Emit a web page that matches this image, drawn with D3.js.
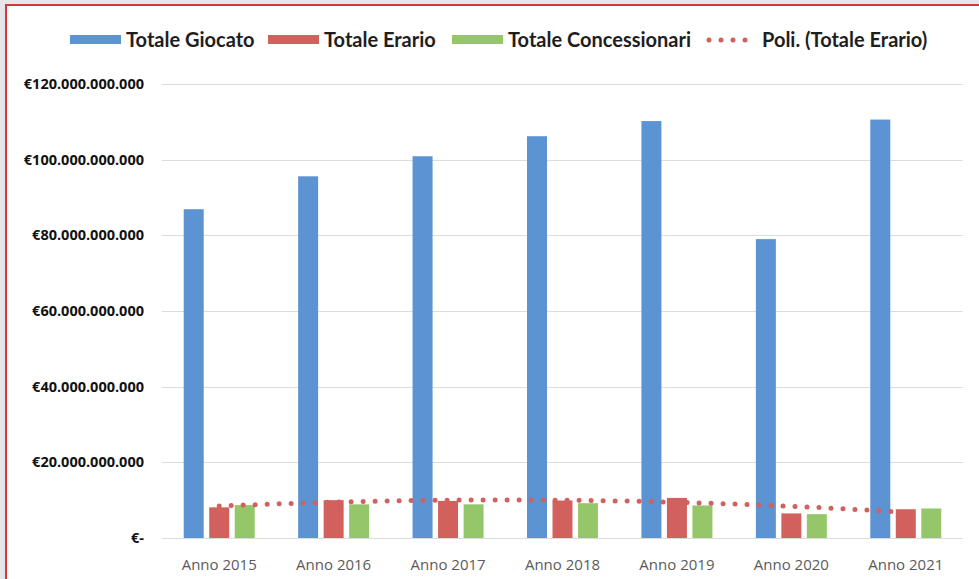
<!DOCTYPE html>
<html>
<head>
<meta charset="utf-8">
<script src="https://cdn.jsdelivr.net/npm/d3@7"></script>
<style>
  html, body { margin: 0; padding: 0; background: #e5e6e8; }
  #chart { width: 979px; height: 579px; }
</style>
</head>
<body>
<div id="chart"></div>
<script>
// categories and series (values in euro)
const years = ["Anno 2015", "Anno 2016", "Anno 2017", "Anno 2018", "Anno 2019", "Anno 2020", "Anno 2021"];
const seriesNames = ["Totale Giocato", "Totale Erario", "Totale Concessionari"];
const giocato = [86.9e9, 95.6e9, 100.9e9, 106.2e9, 110.2e9, 79.0e9, 110.6e9];
const erario = [8.1e9, 10.0e9, 9.8e9, 9.9e9, 10.6e9, 6.5e9, 7.6e9];
const concessionari = [8.7e9, 8.9e9, 8.9e9, 9.2e9, 8.6e9, 6.3e9, 7.8e9];
const yTicks = [0, 20e9, 40e9, 60e9, 80e9, 100e9, 120e9];
const trendLabel = "Poli. (Totale Erario)";

function drawChart() {
  const W = 979, H = 579;
  const colors = ["#5b93d3", "#d2605d", "#95c76a"];

  const svg = d3.select("#chart")
    .append("svg")
      .attr("width", W)
      .attr("height", H);

  // frame: white panel with red border on top and left
  svg.append("rect")
    .attr("x", 5).attr("y", 4)
    .attr("width", W - 5).attr("height", H - 4)
    .attr("fill", "#ffffff");
  svg.append("path")
    .attr("d", `M6,${H} L6,5 L${W},5`)
    .attr("fill", "none")
    .attr("stroke", "#d8343c")
    .attr("stroke-width", 2);

  const x = d3.scaleBand()
    .domain(years)
    .range([162, 963])
    .padding(0);

  const y = d3.scaleLinear()
    .domain([0, 120e9])
    .range([538, 84]);

  const xSub = d3.scaleBand()
    .domain(seriesNames)
    .range([-35.5, 35.5])
    .paddingInner(0.216)
    .paddingOuter(0);

  // gridlines
  svg.append("g")
    .selectAll("line")
    .data(yTicks)
    .join("line")
      .attr("x1", x.range()[0])
      .attr("x2", x.range()[1])
      .attr("y1", d => Math.round(y(d)) + 0.5)
      .attr("y2", d => Math.round(y(d)) + 0.5)
      .attr("stroke", "#dcdcdc")
      .attr("stroke-width", 1);

  // y labels
  const fmt = d => d === 0 ? "€-" : "€" + d3.format(",")(d).replace(/,/g, ".");
  svg.append("g")
    .selectAll("text")
    .data(yTicks)
    .join("text")
      .attr("x", 144)
      .attr("y", d => y(d) + 5)
      .attr("text-anchor", "end")
      .style("font-family", "'Open Sans', sans-serif")
      .style("font-weight", "bold")
      .style("font-size", "14.5px")
      .style("fill", "#111")
      .text(fmt);

  // x labels
  svg.append("g")
    .selectAll("text")
    .data(years)
    .join("text")
      .attr("x", d => x(d) + x.bandwidth() / 2)
      .attr("y", 570)
      .attr("text-anchor", "middle")
      .style("font-family", "'Open Sans', sans-serif")
      .style("font-size", "15px")
      .style("fill", "#5a5a5a")
      .text(d => d);

  // bars
  const table = years.map((yr, i) => ({
    year: yr,
    values: [giocato[i], erario[i], concessionari[i]]
  }));

  svg.append("g")
    .selectAll("g")
    .data(table)
    .join("g")
      .attr("transform", d => `translate(${x(d.year) + x.bandwidth() / 2},0)`)
    .selectAll("rect")
    .data(d => d.values.map((v, k) => ({key: seriesNames[k], value: v, k: k})))
    .join("rect")
      .attr("x", d => xSub(d.key))
      .attr("width", xSub.bandwidth())
      .attr("y", d => y(d.value))
      .attr("height", d => y(0) - y(d.value))
      .attr("fill", d => colors[d.k]);

  // polynomial (order 2) trendline of Totale Erario
  const n = erario.length;
  const ts = d3.range(n).map(i => i - (n - 1) / 2);
  const sT2 = d3.sum(ts, t => t * t), sT4 = d3.sum(ts, t => t ** 4);
  const sY = d3.sum(erario), sTY = d3.sum(ts, (t, i) => t * erario[i]);
  const sT2Y = d3.sum(ts, (t, i) => t * t * erario[i]);
  const b = sTY / sT2;
  const c = (sT2Y - sT2 * sY / n) / (sT4 - sT2 * sT2 / n);
  const a = (sY - c * sT2) / n;
  const poly = t => a + b * t + c * t * t;

  const x0 = x(years[0]) + x.bandwidth() / 2;
  const trendPts = d3.range(0, n - 1 + 0.001, 0.05).map(s => [x0 + s * x.step(), y(poly(s - (n - 1) / 2))]);

  svg.append("path")
    .attr("d", d3.line()(trendPts))
    .attr("fill", "none")
    .attr("stroke", colors[1])
    .attr("stroke-width", 5)
    .attr("stroke-linecap", "round")
    .attr("stroke-dasharray", "0 12");

  // legend
  const legendItems = [
    {name: seriesNames[0], color: colors[0], x: 70, type: "rect"},
    {name: seriesNames[1], color: colors[1], x: 268, type: "rect"},
    {name: seriesNames[2], color: colors[2], x: 452, type: "rect"},
    {name: trendLabel, color: colors[1], x: 706, type: "dots"}
  ];
  const legend = svg.append("g").attr("class", "legend");
  legend.selectAll("rect")
    .data(legendItems.filter(d => d.type === "rect"))
    .join("rect")
      .attr("x", d => d.x)
      .attr("y", 35)
      .attr("width", 51)
      .attr("height", 9)
      .attr("fill", d => d.color);
  legend.selectAll("path")
    .data(legendItems.filter(d => d.type === "dots"))
    .join("path")
      .attr("d", d => `M${d.x + 3},40 L${d.x + 51},40`)
      .attr("stroke", d => d.color)
      .attr("stroke-width", 5)
      .attr("stroke-linecap", "round")
      .attr("stroke-dasharray", "0 12");
  legend.selectAll("text")
    .data(legendItems)
    .join("text")
      .attr("x", d => d.x + 56)
      .attr("y", 47)
      .style("font-family", "Lato, sans-serif")
      .style("font-weight", "bold")
      .style("font-size", "20px")
      .style("fill", "#1e1e1e")
      .text(d => d.name);
}

drawChart();
</script>
</body>
</html>
